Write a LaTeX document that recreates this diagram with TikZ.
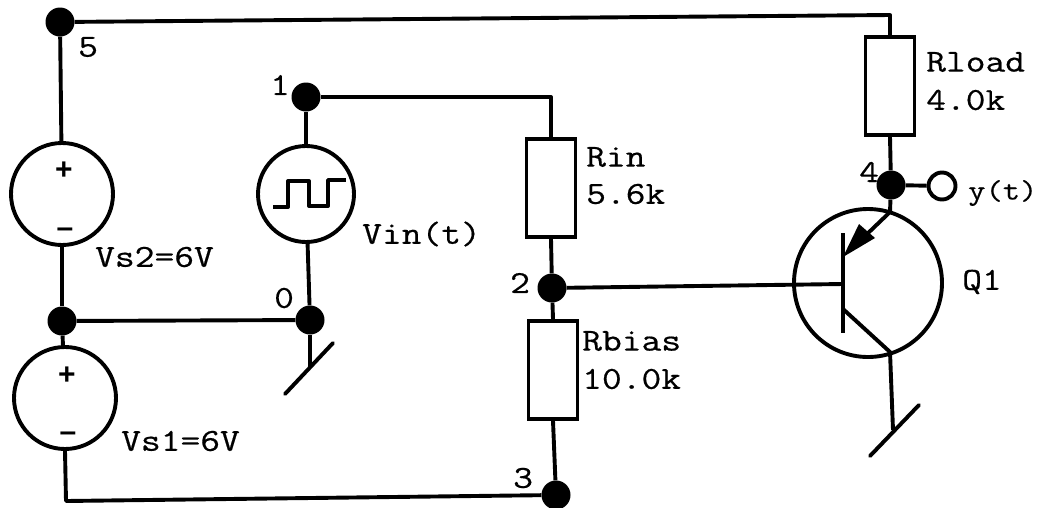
\documentclass[tikz,border=0pt]{standalone}
\usepackage{fontspec}
\newfontfamily\lblfont[FakeStretch=1.2,FakeBold=0.5]{Latin Modern Mono}
\newfontfamily\signfont{Liberation Sans}
\usetikzlibrary{arrows.meta}
\tikzset{
  wire/.style={line width=3.9pt, line join=round},
  dotnode/.style={circle, fill=black, draw=none, minimum size=29pt, inner sep=0pt},
  opennode/.style={circle, fill=white, draw=black, line width=3.9pt, minimum size=27pt, inner sep=0pt},
  srcnode/.style={circle, draw=black, line width=3.9pt, minimum size=102pt, inner sep=0pt},
  resbox/.style={rectangle, draw=black, line width=3.6pt, minimum width=49pt, minimum height=98pt, inner sep=0pt},
  lbl/.style={inner sep=0pt, font=\fontsize{32}{34}\selectfont\lblfont},
  smalllbl/.style={inner sep=0pt, font=\fontsize{28}{30}\selectfont\lblfont},
  sign/.style={inner sep=0pt, font=\fontsize{30}{30}\selectfont\signfont\bfseries}
}
\begin{document}
\begin{tikzpicture}[x=1pt,y=-1pt]
\useasboundingbox (0,0) rectangle (1044,507);
% nodes
\node[dotnode] (n5) at (60,22) {};
\node[dotnode] (n1) at (306,97) {};
\node[dotnode] (n2) at (552,288) {};
\node[dotnode] (n3) at (556,495) {};
\node[dotnode] (n4) at (891,185) {};
\node[dotnode] (n0) at (310,320) {};
\node[dotnode] (nm) at (62,321) {};
\node[opennode] (out) at (942,186) {};
\node[srcnode] (vs2) at (62,194) {};
\node[srcnode] (vs1) at (65,398) {};
\node[srcnode, minimum size=96pt] (vin) at (306,194) {};
\node[srcnode, minimum size=148pt] (q1) at (868,283) {};
\node[resbox] (rload) at (890,86) {};
\node[resbox] (rin) at (551,188) {};
\node[resbox] (rbias) at (553,370) {};
% named corner and terminal points
\coordinate (tr) at (890,15);
\coordinate (r1) at (551,97);
\coordinate (bl) at (66,501);
\coordinate (base) at (843,284);
\coordinate (bt) at (843,233);
\coordinate (bb) at (843,333);
\coordinate (ee) at (890,212);
\coordinate (eb) at (865,236);
\coordinate (cb) at (843,309);
\coordinate (cc) at (890,352);
\coordinate (g1) at (893,430);
\coordinate (g1a) at (870,456);
\coordinate (g1b) at (919,405);
\coordinate (g0) at (310,367);
\coordinate (g0a) at (285,394);
\coordinate (g0b) at (333,343);
% wires
\draw[wire] (n5) -- (tr) -- (rload.north);
\draw[wire] (rload.south) -- (n4);
\draw[wire] (n4) -- (out);
\draw[wire] (n5) -- (vs2);
\draw[wire] (vs2) -- (nm);
\draw[wire] (nm) -- (vs1);
\draw[wire] (nm) -- (n0);
\draw[wire] (n1) -- (vin);
\draw[wire] (vin) -- (n0);
\draw[wire] (n1) -- (r1) -- (rin.north);
\draw[wire] (rin.south) -- (n2);
\draw[wire] (n2) -- (rbias.north);
\draw[wire] (rbias.south) -- (n3);
\draw[wire] (vs1.south) -- (bl) -- (n3);
\draw[wire] (n2) -- (base);
% transistor
\draw[wire] (bt) -- (bb);
\draw[wire] (n4) -- (ee) -- (eb);
\fill (843,257) -- (859,224) -- (875,238) -- cycle;
\draw[wire] (cb) -- (cc) -- (g1);
% grounds
\draw[wire, line cap=round] (g1a) -- (g1b);
\draw[wire] (n0) -- (g0);
\draw[wire, line cap=round] (g0a) -- (g0b);
% square wave
\draw[wire] (273,207) -- (288,207) -- (288,181) -- (309,181) -- (309,206) -- (328,206) -- (328,180) -- (346,180);
% signs
\node[sign] (p2) at (64,171) {+};
\node[sign] (m2) at (65,233) {–};
\node[sign] (p1) at (67,376) {+};
\node[sign] (m1) at (68,437) {–};
% labels
\node[lbl, anchor=west] (l5) at (78,47) {5};
\node[lbl, anchor=west] (l1) at (270,85) {1};
\node[lbl, anchor=west] (l0) at (274,298) {0};
\node[lbl, anchor=west] (l2) at (510,283) {2};
\node[lbl, anchor=west] (l3) at (513,478) {3};
\node[lbl, anchor=west] (l4) at (859,172) {4};
\node[lbl, anchor=west] (tvs2) at (95,257) {Vs2=6V};
\node[lbl, anchor=west] (tvs1) at (121,441) {Vs1=6V};
\node[lbl, anchor=west] (tvin) at (362,234) {Vin(t)};
\node[lbl, anchor=west] (trin) at (586,157) {Rin};
\node[lbl, anchor=west] (trinv) at (586,194) {5.6k};
\node[lbl, anchor=west] (trb) at (582,341) {Rbias};
\node[lbl, anchor=west] (trbv) at (582,379) {10.0k};
\node[lbl, anchor=west] (trl) at (926,62) {Rload};
\node[lbl, anchor=west] (trlv) at (926,100) {4.0k};
\node[smalllbl, anchor=west] (ty) at (968,193) {y(t)};
\node[lbl, anchor=west] (tq) at (962,282) {Q1};
\end{tikzpicture}
\end{document}
